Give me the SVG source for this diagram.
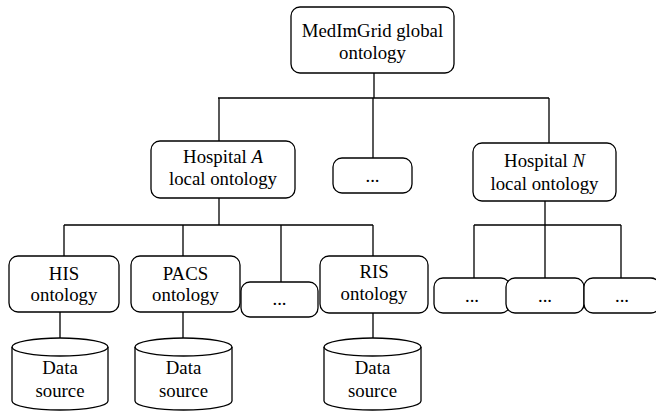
<svg xmlns="http://www.w3.org/2000/svg" width="656" height="412" viewBox="0 0 656 412">
<style>
.box{fill:#fff;stroke:#000;stroke-width:1.3}
.ln{fill:none;stroke:#000;stroke-width:1.3}
text{font-family:"Liberation Serif","Times New Roman",serif;font-size:18.8px;fill:#000;text-anchor:middle}
</style>
<rect width="656" height="412" fill="#fff"/>
<g id="connectors" class="ln">
<path d="M374 73V98M218 98H549M219 98V141M373 98V158M549 98V143"/>
<path d="M219 198V225M64 225H373M64 225V256M183 225V256M281 225V282M373 225V256"/>
<path d="M545 201V225M474 225H621M474 225V278M545 225V278M621 225V278"/>
<path d="M60 312V338M183 312V338M373 313V338"/>
</g>
<g id="global"><rect class="box" x="291" y="7" width="163" height="66" rx="9"/><text x="372.5" y="37">MedImGrid global</text><text x="372.5" y="59">ontology</text></g>
<g id="hospitalA"><rect class="box" x="151" y="141" width="144" height="57" rx="9"/><text x="223" y="163">Hospital <tspan font-style="italic">A</tspan></text><text x="223" y="185">local ontology</text></g>
<g id="midDots"><rect class="box" x="333" y="158" width="79" height="35" rx="9"/><text x="372.5" y="182">...</text></g>
<g id="hospitalN"><rect class="box" x="473" y="143" width="143" height="58" rx="9"/><text x="544.5" y="167">Hospital <tspan font-style="italic">N</tspan></text><text x="544.5" y="190">local ontology</text></g>
<g id="his"><rect class="box" x="9" y="256" width="110" height="56" rx="9"/><text x="64" y="280">HIS</text><text x="64" y="301">ontology</text></g>
<g id="pacs"><rect class="box" x="131" y="256" width="109" height="56" rx="9"/><text x="185.5" y="280">PACS</text><text x="185.5" y="301">ontology</text></g>
<g id="aDots"><rect class="box" x="241" y="282" width="77" height="35" rx="9"/><text x="279.5" y="305">...</text></g>
<g id="ris"><rect class="box" x="320" y="256" width="108" height="57" rx="9"/><text x="374" y="278">RIS</text><text x="374" y="300">ontology</text></g>
<g id="nDots1"><rect class="box" x="434" y="278" width="76" height="35" rx="9"/><text x="472" y="302">...</text></g>
<g id="nDots2"><rect class="box" x="506" y="278" width="78" height="35" rx="9"/><text x="545" y="302">...</text></g>
<g id="nDots3"><rect class="box" x="584" y="278" width="76" height="35" rx="9"/><text x="622" y="302">...</text></g>
<g id="ds1"><path class="box" d="M12 347V401A48 9 0 0 0 108 401V347A48 9 0 0 0 12 347Z"/><path class="ln" d="M12 347A48 9 0 0 0 108 347"/><text x="60" y="374">Data</text><text x="60" y="397">source</text></g>
<g id="ds2"><path class="box" d="M135 347V401A48.5 9 0 0 0 232 401V347A48.5 9 0 0 0 135 347Z"/><path class="ln" d="M135 347A48.5 9 0 0 0 232 347"/><text x="183.5" y="374">Data</text><text x="183.5" y="397">source</text></g>
<g id="ds3"><path class="box" d="M324 347V401A48.5 9 0 0 0 421 401V347A48.5 9 0 0 0 324 347Z"/><path class="ln" d="M324 347A48.5 9 0 0 0 421 347"/><text x="372.5" y="374">Data</text><text x="372.5" y="397">source</text></g>
</svg>
